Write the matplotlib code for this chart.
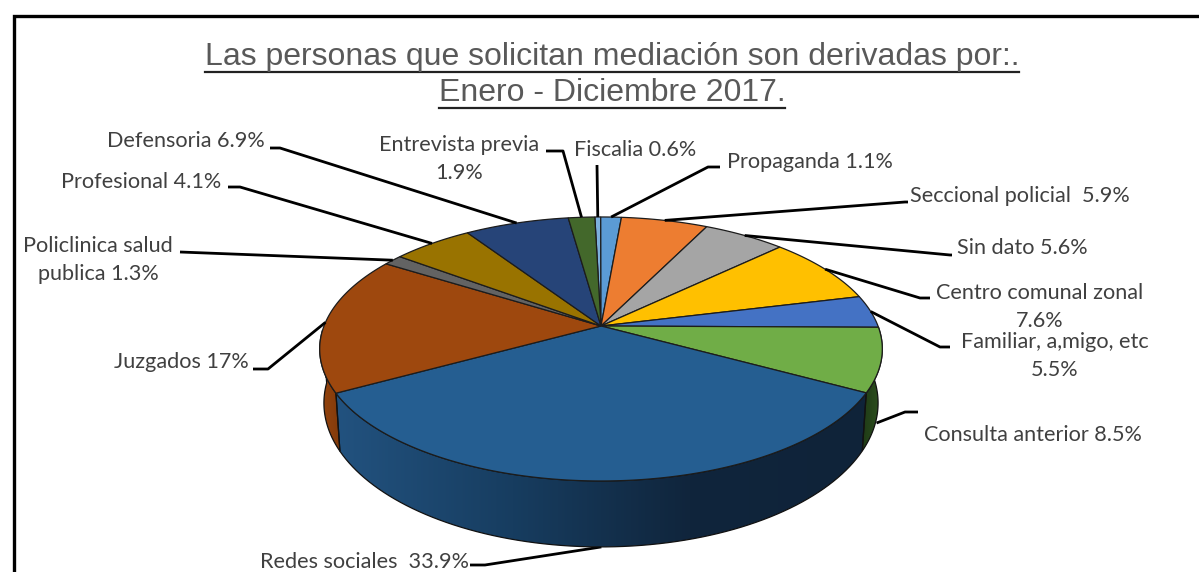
import numpy as np
import matplotlib
matplotlib.use("Agg")
import matplotlib.pyplot as plt
from matplotlib.colors import LinearSegmentedColormap
from matplotlib.patches import Polygon

# Categories, printed labels and slice sizes as measured on the drawn pie
names = ["Fiscalia", "Propaganda", "Seccional", "Sin dato", "Centro comunal", "Familiar",
         "Consulta", "Redes", "Juzgados", "Policlinica", "Profesional", "Defensoria", "Entrevista"]
labels = ["Fiscalia 0.6%", "Propaganda 1.1%", "Seccional policial  5.9%", "Sin dato 5.6%",
          "Centro comunal zonal\n7.6%", "Familiar, a,migo, etc\n5.5%", "Consulta anterior 8.5%",
          "Redes sociales  33.9%", "Juzgados 17%", "Policlinica salud\npublica 1.3%",
          "Profesional 4.1%", "Defensoria 6.9%", "Entrevista previa\n1.9%"]
shares = [0.4, 1.4, 5.9, 5.6, 8.3, 4.0, 7.8, 34.1, 16.9, 1.3, 5.5, 7.1, 1.8]
colors = ["#7db0de", "#5b9bd5", "#ed7d31", "#a5a5a5", "#ffc000", "#4472c4", "#70ad47",
          "#255e91", "#9e480e", "#636363", "#997300", "#264478", "#43682b"]

# Layout in image pixels
CX, CY = 601, 326
RX, RY, K = 277, 128, 0.174
START = -1.5

label_pos = [(635, 150), (810, 162), (1020, 196), (1022, 248), (1040, 307), (1055, 356),
             (1033, 435), (365, 562), (181, 362), (98, 260), (141, 182), (186, 141), (459, 159)]
label_elbow = [(597, 165), (708, 167), (905, 202), (950, 255), (920, 298), (940, 347),
               (905, 412), (485, 565), (268, 369), (180, 252), (240, 187), (280, 148), (563, 151)]
label_end = [None, (720, 167), (908, 202), (952, 255), (930, 298), (950, 347),
             (918, 412), (470, 565), (253, 369), None, (228, 187), (270, 148), (546, 151)]
leader_depth = [0, 0, 0, 0, 0, 0, 1.15, 1, 0, 0, 0, 0, 0]


def project(theta, depth=0.0):
    # theta in degrees clockwise from the top, depth 0 = top rim, 1 = bottom rim
    t = np.radians(theta)
    u, v = np.sin(t), -np.cos(t)
    s = 1 / (1 - K * v)
    x, y = RX * u * s, RY * v * s
    xs = 1 + (0.985 - 1) * depth
    ys = 1 + (1.09 - 1) * depth
    return CX + x * xs, CY + y * ys + 52 * depth


fig, ax = plt.subplots(figsize=(11.99, 5.72), dpi=100)
ax.set_position([0, 0, 1, 1])
ax.set_xlim(0, 1199)
ax.set_ylim(572, 0)
ax.axis("off")

shares_arr = np.array(shares) / sum(shares) * 360
edges = START + np.concatenate([[0], np.cumsum(shares_arr)])
mids = (edges[:-1] + edges[1:]) / 2

# Side walls, with a horizontal gradient
wall_cols = {"Consulta": ["#1f3a16", "#2f5220"],
             "Redes": ["#22527f", "#173d60", "#10253c", "#0f2339"],
             "Juzgados": ["#97450e", "#803a0b"]}
for name, grad_cols in wall_cols.items():
    i = names.index(name)
    a0, a1 = edges[i], min(edges[i + 1], 268)
    th = np.linspace(a0, a1, 80)
    xt, yt = project(th)
    xb, yb = project(th, 1)
    pts = np.column_stack([np.r_[xt, xb[::-1]], np.r_[yt, yb[::-1]]])
    poly = Polygon(pts, closed=True, facecolor="none", edgecolor="#111111", lw=0.9, zorder=3)
    ax.add_patch(poly)
    cmap = LinearSegmentedColormap.from_list(name, grad_cols)
    grad = np.linspace(0, 1, 256).reshape(1, -1)
    im = ax.imshow(grad, extent=[pts[:, 0].min(), pts[:, 0].max(), pts[:, 1].max(), pts[:, 1].min()],
                   cmap=cmap, aspect="auto", zorder=2)
    im.set_clip_path(poly)

ax.set_xlim(0, 1199)
ax.set_ylim(572, 0)

# Top face
for i, c in enumerate(colors):
    th = np.linspace(edges[i], edges[i + 1], max(int(shares_arr[i] * 2), 3))
    x, y = project(th)
    pts = np.column_stack([np.r_[CX, x], np.r_[CY, y]])
    ax.add_patch(Polygon(pts, closed=True, facecolor=c, edgecolor="#1c1c1c", lw=0.9, zorder=4))

# Leader lines and labels
for i, lab in enumerate(labels):
    ax_, ay_ = project(mids[i], leader_depth[i])
    lx = [ax_, label_elbow[i][0]]
    ly = [ay_, label_elbow[i][1]]
    if label_end[i] is not None:
        lx.append(label_end[i][0])
        ly.append(label_end[i][1])
    # leaders that start on the wall go behind it
    z = 1 if leader_depth[i] > 0 else 5
    ax.plot(lx, ly, color="black", lw=2, solid_capstyle="butt", zorder=z)
    ax.text(label_pos[i][0], label_pos[i][1], lab, family="Lato", fontsize=15.6, color="#404040",
            ha="center", va="center", linespacing=1.55, zorder=6)

# Title with underlines
title_lines = ["Las personas que solicitan mediación son derivadas por:.", "Enero - Diciembre 2017."]
fig.canvas.draw()
for line, y in zip(title_lines, [57, 93]):
    t = ax.text(612, y, line, family="Liberation Sans", fontsize=23, color="#595959",
                ha="center", va="center")
    bb = t.get_window_extent(fig.canvas.get_renderer())
    ax.plot([bb.x0, bb.x1], [y + 14.5, y + 14.5], color="#222222", lw=1.6)

# Frame of the original picture
ax.plot([14, 14, 1199], [572, 16, 16], color="black", lw=2.4, solid_joinstyle="miter")

fig.savefig("out.png", dpi=100)
